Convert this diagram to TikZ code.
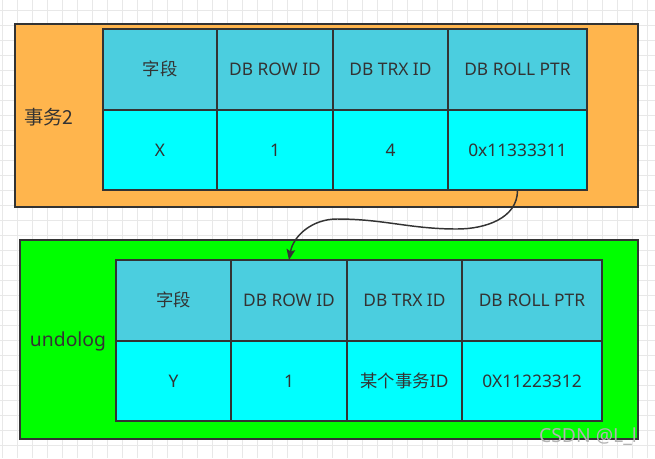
\documentclass[tikz,border=0pt]{standalone}
\usepackage{fontspec}
\setmainfont{Noto Sans}
\newfontfamily\cjk{Noto Sans CJK SC}
\usetikzlibrary{positioning,arrows.meta,matrix}
\definecolor{boxline}{RGB}{51,51,51}
\definecolor{trxorange}{RGB}{255,181,77}
\definecolor{undogreen}{RGB}{0,255,0}
\definecolor{hdcyan}{RGB}{75,206,223}
\definecolor{valcyan}{RGB}{0,255,255}
\definecolor{gridc}{RGB}{232,232,232}
\tikzset{
  frame/.style={draw=boxline, line width=1.5pt, inner sep=0pt, outer sep=0pt, anchor=north west},
  tbl/.style={matrix of nodes, ampersand replacement=\amp, row sep=-1.5pt, column sep=-1.5pt,
              inner sep=0pt, outer sep=0pt, anchor=north west,
              nodes={draw=boxline, line width=1.5pt, anchor=center, inner sep=0pt, outer sep=0pt,
                     minimum height=60.5pt, font=\fontsize{13}{15}\selectfont, text=boxline}},
  hd/.style={fill=hdcyan},
  val/.style={fill=valcyan},
  lbl/.style={font=\fontsize{14.5}{17}\selectfont, text=boxline},
  ptr/.style={-{Stealth[length=8pt, width=6.5pt, inset=1.5pt]}, line width=1.1pt, boxline},
  wmark/.style={font=\fontsize{14.5}{17}\selectfont, text=black!30}
}

\begin{document}
\begin{tikzpicture}[x=0.75pt, y=-0.75pt]
\useasboundingbox (0,0) rectangle (655,458);
\fill[white] (0,0) rectangle (655,458);
% grid paper
\foreach \gx in {0,...,43} \draw[gridc, line width=0.6pt] (2+15*\gx,0) -- (2+15*\gx,458);
\foreach \gy in {0,...,29} \draw[gridc, line width=0.6pt] (0,10+15*\gy) -- (655,10+15*\gy);

% transaction 2
\node[frame, fill=trxorange, minimum width=467.25pt, minimum height=137.25pt] (trx) at (15,24) {};
\node[lbl] (trxlbl) at (49,117) {\cjk 事务2};
\matrix (t) [tbl, at={(102,28)},
  column 1/.style={nodes={minimum width=85.5pt}},
  column 2/.style={nodes={minimum width=87pt}},
  column 3/.style={nodes={minimum width=86.25pt}},
  column 4/.style={nodes={minimum width=104.25pt}}] {
  |[hd]| {\cjk 字段} \amp |[hd]| DB ROW ID \amp |[hd]| DB TRX ID \amp |[hd]| DB ROLL PTR \\
  |[val]| X \amp |[val]| 1 \amp |[val]| 4 \amp |[val]| 0x11333311 \\
};

% undo log
\node[frame, fill=undogreen, minimum width=463.5pt, minimum height=149.25pt] (undo) at (20,240) {};
\node[lbl] (undolbl) at (68,341) {undolog};
\matrix (u) [tbl, at={(115,259)},
  column 1/.style={nodes={minimum width=86.25pt}},
  column 2/.style={nodes={minimum width=87pt}},
  column 3/.style={nodes={minimum width=86.25pt}},
  column 4/.style={nodes={minimum width=105pt}}] {
  |[hd]| {\cjk 字段} \amp |[hd]| DB ROW ID \amp |[hd]| DB TRX ID \amp |[hd]| DB ROLL PTR \\
  |[val]| Y \amp |[val]| 1 \amp |[val]| {\cjk 某个事务}ID \amp |[val]| 0X11223312 \\
};

% roll pointer
\coordinate (dip) at (457,229);
\coordinate (hump) at (337,219);
\draw[ptr] (t-2-4.south) to[out=-90, in=0] (dip) to[out=180, in=0] (hump) to[out=180, in=80] (u-1-2.north);

\node[wmark] (mark) at (588,437) {CSDN @L\_l};
\end{tikzpicture}
\end{document}
